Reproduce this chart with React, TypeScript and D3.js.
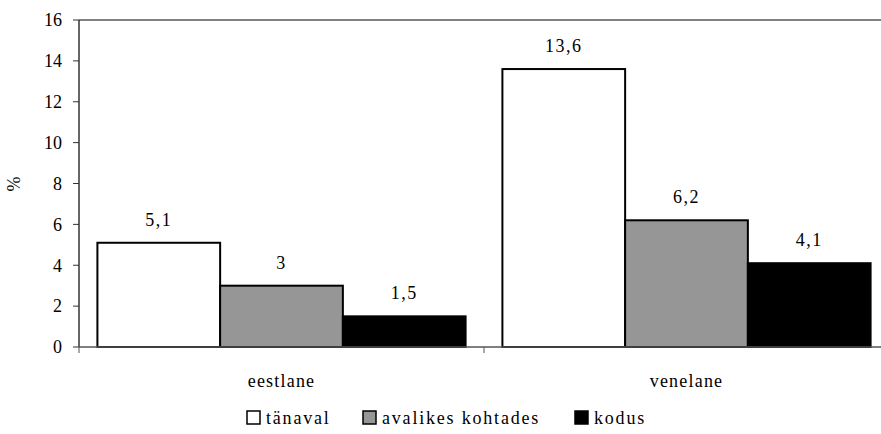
import React from "react";
import * as d3 from "d3";

const categories = ["eestlane", "venelane"];
const seriesNames = ["tänaval", "avalikes kohtades", "kodus"];
const seriesColors = ["#ffffff", "#969696", "#000000"];
const tanaval = [5.1, 13.6];
const avalikes = [3, 6.2];
const kodus = [1.5, 4.1];
const yTicks = [0, 2, 4, 6, 8, 10, 12, 14, 16];

const W = 881;
const H = 434;
const left = 79;
const right = 889;
const top = 20;
const bottom = 347;
const font = "'Liberation Serif', 'Times New Roman', Times, 'Nimbus Roman', 'Noto Serif', 'DejaVu Serif', serif";
const ts: React.CSSProperties = { fontFamily: font };

export default function App() {
  const series = [tanaval, avalikes, kodus];
  const y = d3.scaleLinear().domain([0, 16]).range([bottom, top]);
  const x0 = d3.scaleBand().domain(categories).range([left, right]).paddingInner(0).paddingOuter(0);
  const x1 = d3
    .scaleBand()
    .domain(seriesNames)
    .range([0, x0.bandwidth()])
    .paddingInner(0)
    .paddingOuter(0.15);
  const fmt = (v: number) => String(v).replace(".", ",");
  const legendX = [247, 363, 575];
  return (
    <svg width={W} height={H} style={{ position: "absolute", left: 0, top: 0, background: "#fff" }}>
      <line x1={left} x2={W} y1={top} y2={top} stroke="#808080" strokeWidth={2} />
      {categories.map((c, ci) =>
        series.map((s, si) => {
          const bx = (x0(c) as number) + (x1(seriesNames[si]) as number);
          const bw = x1.bandwidth();
          const v = s[ci];
          return (
            <g key={c + si}>
              <rect x={bx} y={y(v)} width={bw} height={bottom - y(v)} fill={seriesColors[si]} stroke="#000" strokeWidth={2} />
              <text x={bx + bw / 2} y={y(v) - 17} textAnchor="middle" fontSize={18} letterSpacing={1.5} style={ts}>
                {fmt(v)}
              </text>
            </g>
          );
        })
      )}
      <line x1={left} x2={left} y1={top} y2={bottom} stroke="#333" strokeWidth={1.5} />
      <line x1={left} x2={W} y1={bottom} y2={bottom} stroke="#555" strokeWidth={1.5} />
      {yTicks.map((t) => (
        <g key={t}>
          <line x1={left - 6} x2={left} y1={y(t)} y2={y(t)} stroke="#333" strokeWidth={1} />
          <text x={62} y={y(t)} dy="0.35em" textAnchor="end" fontSize={18} style={ts}>
            {t}
          </text>
        </g>
      ))}
      {[left, x0(categories[1]) as number, right].map((tx, i) => (
        <line key={i} x1={tx} x2={tx} y1={bottom} y2={bottom + 6} stroke="#555" strokeWidth={1} />
      ))}
      {categories.map((c) => (
        <text key={c} x={(x0(c) as number) + x0.bandwidth() / 2} y={381} dy="0.35em" textAnchor="middle" fontSize={18} letterSpacing={1.2} style={ts}>
          {c}
        </text>
      ))}
      <text transform={`translate(20,184) rotate(-90)`} textAnchor="middle" fontSize={18} style={ts}>
        %
      </text>
      {seriesNames.map((n, i) => (
        <g key={n}>
          <rect x={legendX[i]} y={411} width={13} height={13} fill={seriesColors[i]} stroke="#000" strokeWidth={1.5} />
          <text x={legendX[i] + 19} y={418} dy="0.35em" fontSize={18} letterSpacing={1.8} style={ts}>
            {n}
          </text>
        </g>
      ))}
    </svg>
  );
}
